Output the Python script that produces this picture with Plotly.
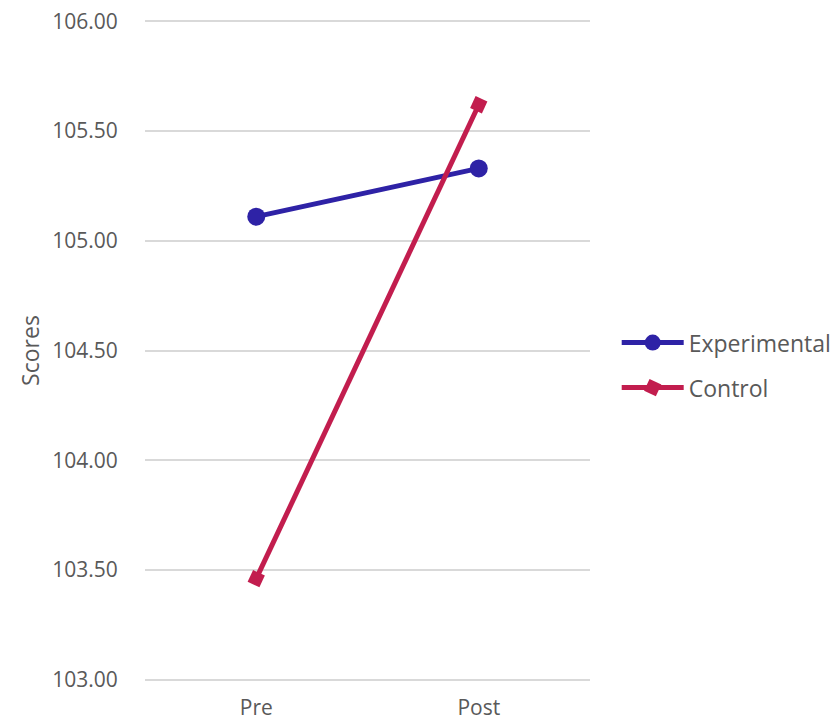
import plotly.graph_objects as go

categories = ["Pre", "Post"]
experimental = [105.11, 105.33]
control = [103.46, 105.62]
y_ticks = [103.0, 103.5, 104.0, 104.5, 105.0, 105.5, 106.0]
y_tick_labels = ["103.00", "103.50", "104.00", "104.50", "105.00", "105.50", "106.00"]

font_family = "Open Sans, Noto Sans, sans-serif"
text_color = "#595959"

fig = go.Figure()
fig.add_trace(go.Scatter(
    x=categories, y=experimental, name="Experimental", mode="lines+markers",
    legendgroup="e",
    line=dict(color="#2E22A6", width=5),
    marker=dict(symbol="circle", size=18, color="#2E22A6"),
))
fig.add_trace(go.Scatter(
    x=categories, y=control, name="Control", mode="lines+markers",
    legendgroup="c",
    line=dict(color="#C21D4E", width=5),
    marker=dict(symbol="square", size=13, color="#C21D4E", angle=25),
))

fig.update_layout(
    width=838, height=724,
    margin=dict(l=145, r=248, t=17, b=40, autoexpand=False),
    paper_bgcolor="white", plot_bgcolor="white",
    font=dict(family=font_family, size=21, color=text_color),
    legend=dict(x=1.06, y=0.478, yanchor="middle", xanchor="left",
                font=dict(size=23, color=text_color), itemwidth=62,
                traceorder="grouped", tracegroupgap=12),
    xaxis=dict(type="category", range=[-0.5, 1.5], showgrid=False,
               showline=False, ticks="outside", ticklen=5, tickcolor="white",
               automargin=False,
               tickfont=dict(size=21, color=text_color)),
    yaxis=dict(range=[102.98, 106.02], tickvals=y_ticks, ticktext=y_tick_labels,
               showgrid=True, gridcolor="#D9D9D9", gridwidth=2,
               zeroline=False, showline=False, automargin=False,
               ticks="outside", ticklen=22, tickcolor="white",
               tickfont=dict(size=21, color=text_color),
               title=dict(text="Scores", font=dict(size=23, color=text_color), standoff=6)),
)

fig.write_html("out.html")
